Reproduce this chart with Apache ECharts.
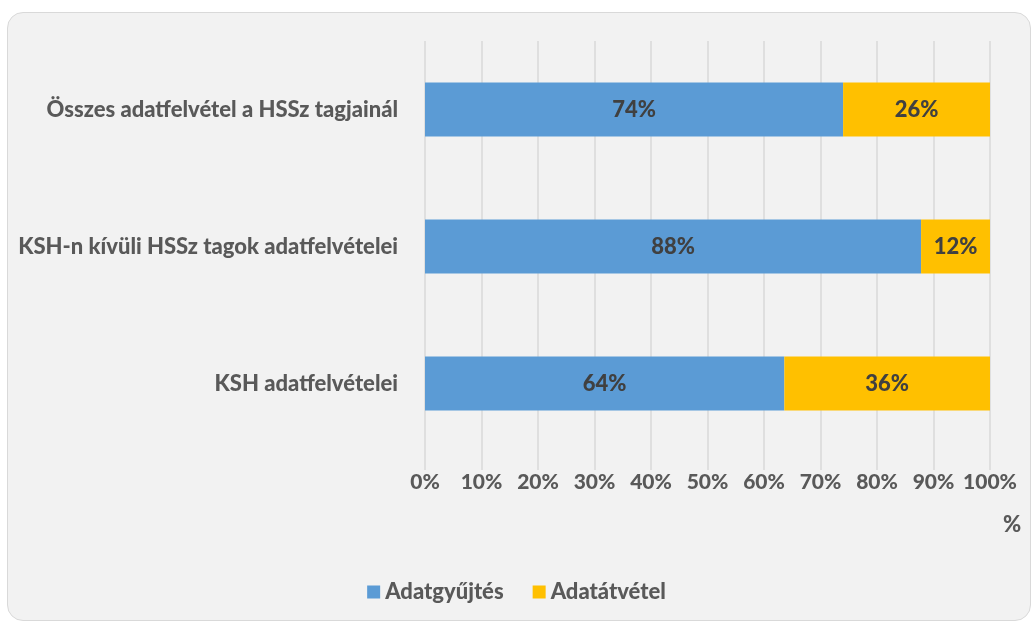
<!DOCTYPE html>
<html>
<head>
<meta charset="utf-8">
<script src="https://cdn.jsdelivr.net/npm/echarts@6/dist/echarts.min.js"></script>
<style>
  html, body { margin: 0; padding: 0; background: #ffffff; }
  #frame {
    position: absolute; left: 7px; top: 12px; width: 1024px; height: 609px;
    background: #f2f2f2; border: 1px solid #d9d9d9; border-radius: 16px;
    box-sizing: border-box; overflow: hidden;
  }
  #main { position: absolute; left: 0; top: 0; width: 1033px; height: 624px; }
</style>
</head>
<body>
<div id="frame"></div>
<div id="main"></div>
<script>
  // kategóriák alulról felfelé (ECharts y tengely sorrendje)
  const categories = ['KSH adatfelvételei', 'KSH-n kívüli HSSz tagok adatfelvételei', 'Összes adatfelvétel a HSSz tagjainál']
  const adatgyujtes = [63.6, 87.8, 74.0]
  const adatatvetel = [36.4, 12.2, 26.0]
  const seriesNames = ['Adatgyűjtés', 'Adatátvétel']
  const xTicks = [0, 10, 20, 30, 40, 50, 60, 70, 80, 90, 100]

  const fontFam = 'Lato, "Open Sans", sans-serif'
  const fw = 900
  const labelStyle = {
    show: true,
    position: 'inside',
    color: '#404040',
    fontWeight: fw,
    fontSize: 22,
    fontFamily: fontFam,
    formatter: p => Math.round(p.value) + '%'
  }

  const chart = echarts.init(document.getElementById('main'), null, { renderer: 'canvas' })
  chart.setOption({
    backgroundColor: 'transparent',
    animation: false,
    grid: { left: 425, right: 43, top: 41, height: 411 },
    title: {
      text: '%',
      left: 998,
      top: 509,
      textStyle: { color: '#595959', fontWeight: fw, fontSize: 22, fontFamily: fontFam }
    },
    legend: {
      bottom: 16,
      left: 'center',
      itemWidth: 13,
      itemHeight: 13,
      itemGap: 29,
      icon: 'rect',
      textStyle: { color: '#595959', fontWeight: fw, fontSize: 22, fontFamily: fontFam },
      data: seriesNames
    },
    xAxis: {
      type: 'value',
      min: xTicks[0],
      max: xTicks[xTicks.length - 1],
      interval: 10,
      axisLine: { show: false },
      axisTick: { show: true, length: 18, lineStyle: { color: '#d9d9d9', width: 1.5 } },
      splitLine: { show: true, lineStyle: { color: '#d9d9d9', width: 1.5 } },
      axisLabel: {
        margin: 20,
        color: '#595959', fontWeight: fw, fontSize: 21, fontFamily: fontFam,
        formatter: v => v + '%'
      }
    },
    yAxis: {
      type: 'category',
      data: categories,
      axisLine: { show: false },
      axisTick: { show: false },
      axisLabel: {
        margin: 27,
        color: '#595959', fontWeight: fw, fontSize: 22, fontFamily: fontFam
      }
    },
    series: [
      {
        name: seriesNames[0],
        type: 'bar',
        stack: 'total',
        barWidth: 54,
        itemStyle: { color: '#5b9bd5' },
        label: labelStyle,
        data: adatgyujtes
      },
      {
        name: seriesNames[1],
        type: 'bar',
        stack: 'total',
        barWidth: 54,
        itemStyle: { color: '#ffc000' },
        label: labelStyle,
        data: adatatvetel
      }
    ]
  })
</script>
</body>
</html>
